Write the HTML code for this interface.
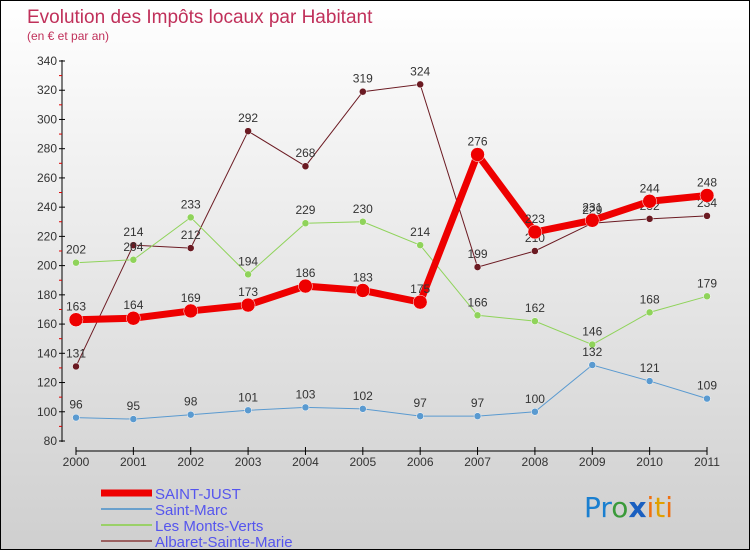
<!DOCTYPE html>
<html><head><meta charset="utf-8"><style>
body{margin:0;}
#wrap{width:748px;height:548px;border:1px solid #000;background:linear-gradient(#fff,#cfcfcf);position:relative;overflow:hidden;font-family:"Liberation Sans",sans-serif;}
</style></head><body>
<div id="wrap">
<svg id="chart" width="748" height="548">
<text x="26" y="22" font-size="19" fill="#c0305a">Evolution des Impôts locaux par Habitant</text>
<text x="26" y="39" font-size="12" fill="#c0305a">(en € et par an)</text>
<g id="axes"></g><g id="series"></g><g id="legend"></g>
<text x="583" y="516" font-size="28" font-family="'DejaVu Sans',sans-serif"><tspan fill="#1a7fd0">Pr</tspan><tspan fill="#3a9a3a">o</tspan><tspan fill="#1a5fc0" font-weight="bold">x</tspan><tspan fill="#f07010">i</tspan><tspan fill="#e0a000">t</tspan><tspan fill="#f07010">i</tspan></text>
</svg></div>
<script>
const years=["2000","2001","2002","2003","2004","2005","2006","2007","2008","2009","2010","2011"];
const yTicks=[80,100,120,140,160,180,200,220,240,260,280,300,320,340];
const saintJust=[163,164,169,173,186,183,175,276,223,231,244,248];
const saintMarc=[96,95,98,101,103,102,97,97,100,132,121,109];
const montsVerts=[202,204,233,194,229,230,214,166,162,146,168,179];
const albaret=[131,214,212,292,268,319,324,199,210,229,232,234];
const NS="http://www.w3.org/2000/svg";
const X=i=>75+i*(706-75)/11;
const Y=v=>440-(v-80)*380/260;
function mk(t,a,p){const e=document.createElementNS(NS,t);for(const k in a)e.setAttribute(k,a[k]);p.appendChild(e);return e;}
const ax=document.getElementById('axes');
let l=mk('line',{x1:61,y1:59,x2:61,y2:441,stroke:'#000'},ax);


l=mk('line',{x1:75,y1:450,x2:706,y2:450,stroke:'#000'},ax);


yTicks.forEach(v=>{const y=Y(v);
 mk('line',{x1:58,y1:y,x2:64,y2:y,stroke:'#000'},ax);
 mk('line',{x1:58,y1:y+14.6,x2:61,y2:y+14.6,stroke:v>80?'#d00':'none'},ax);
 const t=mk('text',{x:56,y:y+4,'font-size':12,fill:'#333','text-anchor':'end'},ax);t.textContent=v;
 
 });
years.forEach((yr,i)=>{const x=X(i);
 mk('line',{x1:x,y1:446,x2:x,y2:454,stroke:'#000'},ax);
 const t=mk('text',{x:x,y:465,'font-size':12,fill:'#333','text-anchor':'middle'},ax);t.textContent=yr;
 
 });
const ser=[{d:albaret,c:'#6b1a22',w:1,r:3.5,n:'albaret-sainte-marie'},{d:montsVerts,c:'#8fd35a',w:1,r:3.5,n:'les-monts-verts'},{d:saintMarc,c:'#5a9ad0',w:1,r:3.5,n:'saint-marc'},{d:saintJust,c:'#ee0000',w:7,r:7,n:'saint-just'}];
const sg=document.getElementById('series');
ser.forEach(s=>{const g=mk('g',{},sg);
 
 
 const p=mk('polyline',{points:s.d.map((v,i)=>X(i)+','+Y(v)).join(' '),fill:'none',stroke:s.c,'stroke-width':s.w},g);
 
 
 s.d.forEach((v,i)=>{const c=mk('circle',{cx:X(i),cy:Y(v),r:s.r,fill:s.c,stroke:'#fff','stroke-width':0.5},g);
  
  
  const t=mk('text',{x:X(i),y:Y(v)-9,'font-size':12,fill:'#333','text-anchor':'middle'},g);t.textContent=v;
  
  });});
const lg=document.getElementById('legend');
const leg=[['SAINT-JUST','#ee0000',7],['Saint-Marc','#6aa0cc',2],['Les Monts-Verts','#9ad068',2],['Albaret-Sainte-Marie','#9a6060',2]];
leg.forEach((e,i)=>{const y=492+i*16;
 const ln=mk('line',{x1:100,y1:y,x2:151,y2:y,stroke:e[1],'stroke-width':e[2]},lg);
 
 
 const t=mk('text',{x:154,y:y+6,'font-size':15,fill:'#5555ee'},lg);t.textContent=e[0];
 
 });
</script></body></html>
